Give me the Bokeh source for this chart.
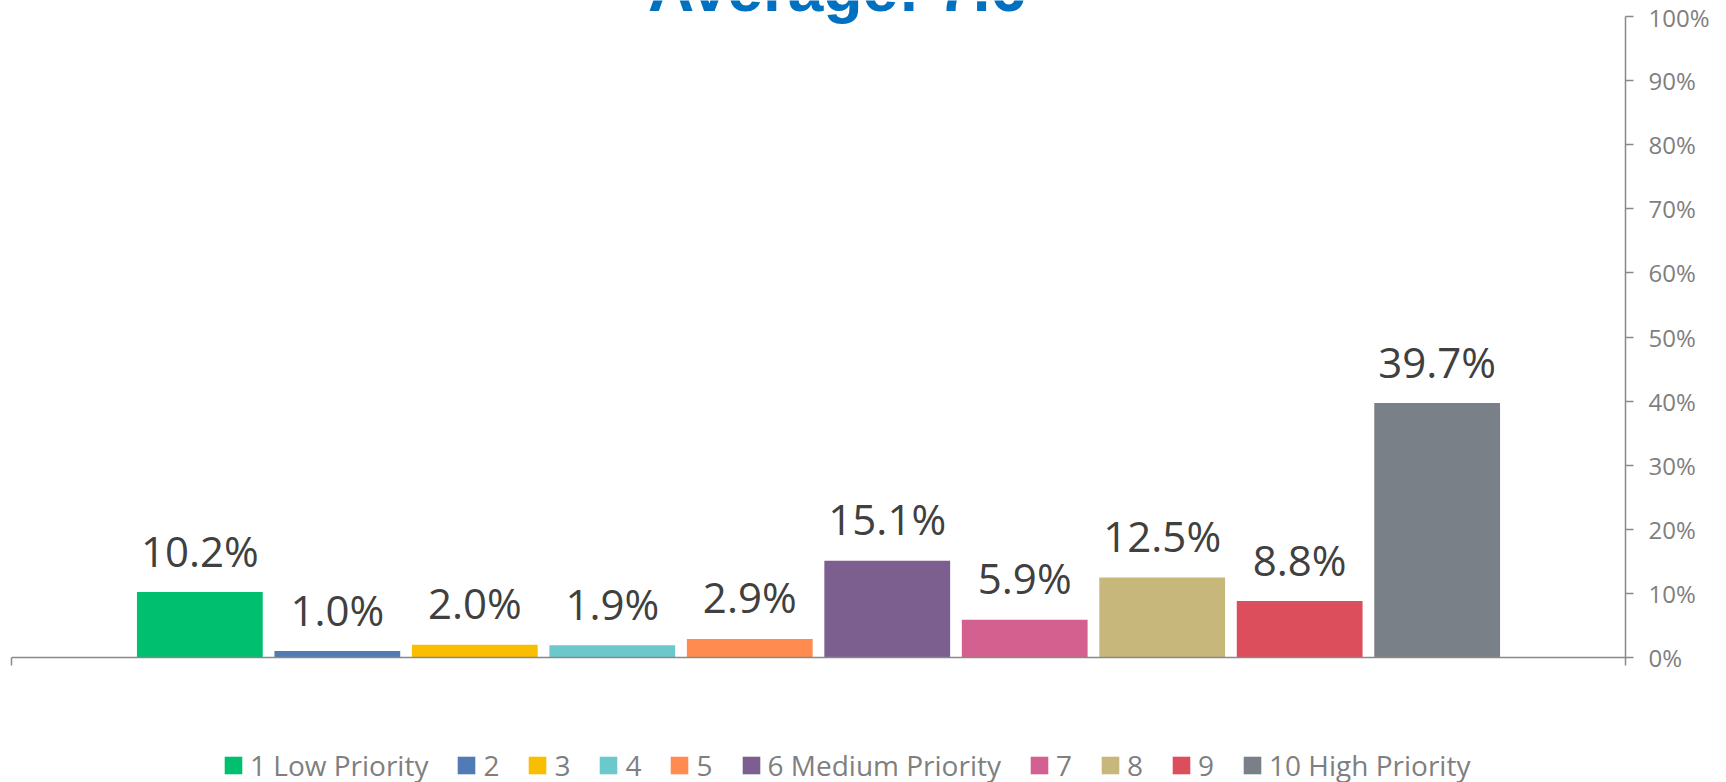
from bokeh.plotting import figure
from bokeh.models import (ColumnDataSource, Range1d, FixedTicker, NumeralTickFormatter,
                          CustomJSTickFormatter, Legend, LegendItem, Label, Span, LinearAxis)
from bokeh.core.properties import value
from bokeh.embed import file_html
from bokeh.resources import INLINE

# ---- data ----
categories = ["1 Low Priority", "2", "3", "4", "5", "6 Medium Priority", "7", "8", "9", "10 High Priority"]
shares = [10.2, 1.0, 2.0, 1.9, 2.9, 15.1, 5.9, 12.5, 8.8, 39.7]
colors = ["#00BF6F", "#507BB5", "#F9BE00", "#6BC8CB", "#FF8B50",
          "#7D5F8F", "#D4608F", "#C8B77A", "#DD4E5D", "#7A8087"]
y_ticks = [0.0, 0.1, 0.2, 0.3, 0.4, 0.5, 0.6, 0.7, 0.8, 0.9, 1.0]
title_text = "Average: 7.6"

xs = list(range(1, len(categories) + 1))
src = ColumnDataSource(dict(
    x=xs,
    y=[s / 100 for s in shares],
    color=colors,
    cat=categories,
    lab=[f"{s:.1f}%" for s in shares],
))

# layout: 641 px per 100%, 0% at y=657, frame spans whole height
PX = 641.0
x_start, x_end = -0.37, 11.37
y_start, y_end = -125 / PX, 1 + 16 / PX
tick_len = 8 / PX

p = figure(width=1726, height=782, output_backend="svg", toolbar_location=None,
           x_range=Range1d(x_start, x_end), y_range=Range1d(y_start, y_end),
           y_axis_location="right", x_axis_location=None,
           min_border_left=11, min_border_right=101, min_border_top=0, min_border_bottom=0)
p.outline_line_color = None
p.xgrid.visible = False
p.ygrid.visible = False
p.background_fill_color = "white"
p.border_fill_color = "white"

bars = p.vbar(x="x", top="y", bottom=0, width=0.915, fill_color="color", line_color=None, source=src)

p.text(x="x", y="y", text="lab", source=src, text_align="center", text_baseline="alphabetic",
       y_offset=-42, text_font=value("Open Sans"), text_font_size="42px", text_color="#404040")

axis_col = "#898989"
ya = p.yaxis[0]
ya.ticker = FixedTicker(ticks=y_ticks)
ya.bounds = (-tick_len, 1.0)
ya.formatter = NumeralTickFormatter(format="0%")
ya.axis_line_color = axis_col
ya.axis_line_width = 1.5
ya.major_tick_line_color = axis_col
ya.major_tick_line_width = 1.5
ya.major_tick_out = 8
ya.major_tick_in = 0
ya.minor_tick_out = 0
ya.minor_tick_in = 0
ya.major_label_standoff = 15
ya.major_label_text_font = "Open Sans"
ya.major_label_text_font_size = "24px"
ya.major_label_text_color = "#7F7F7F"

# left end tick of the category axis
la = LinearAxis(ticker=FixedTicker(ticks=[]), bounds=(-tick_len, 0.0),
                formatter=CustomJSTickFormatter(code="return ''"),
                axis_line_color=axis_col, axis_line_width=1.5,
                major_tick_out=0, major_tick_in=0, minor_tick_out=0, minor_tick_in=0,
                major_label_standoff=0)
p.add_layout(la, "left")

# category axis line at 0%
p.add_layout(Span(location=0, dimension="width", line_color=axis_col, line_width=1.5))

items = [LegendItem(label=c, renderers=[bars], index=i) for i, c in enumerate(categories)]
legend = Legend(items=items, orientation="horizontal", location=(211, -2),
                glyph_width=22, glyph_height=22, label_standoff=6, spacing=27, label_width=0,
                padding=0, margin=0, border_line_color=None, background_fill_alpha=0,
                label_text_font="Open Sans", label_text_font_size="28px",
                label_text_color="#7F7F7F")
p.add_layout(legend, "center")

title = Label(x=5.635, y=1 + 28 / PX, text=title_text, text_align="center", text_baseline="alphabetic",
              text_font="Liberation Sans", text_font_style="bold", text_font_size="64px",
              text_color="#0070C0")
p.add_layout(title)

open("out.html", "w").write(file_html(p, INLINE))
